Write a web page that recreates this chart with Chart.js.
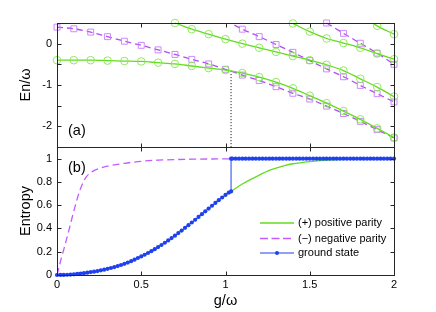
<!DOCTYPE html>
<html><head><meta charset="utf-8">
<script src="https://cdn.jsdelivr.net/npm/chart.js@4.4.1/dist/chart.umd.min.js"></script>
<style>
html,body{margin:0;padding:0;background:#fff;}
#wrap{position:relative;width:436px;height:312px;background:#fff;}
canvas{position:absolute;left:0;top:0;}
</style></head><body>
<div id="wrap"><canvas id="cTop" width="436" height="312"></canvas><canvas id="cBot" width="436" height="312"></canvas></div>
<script>
// ---------- data ----------
// panel (a): energy levels En/ω vs g/ω
const gE     = [0,0.1,0.2,0.3,0.4,0.5,0.6,0.7,0.8,0.9,1.0,1.1,1.2,1.3,1.4,1.5,1.6,1.7,1.8,1.9,2.0];
const evenE0 = [-0.40,-0.40,-0.40,-0.41,-0.42,-0.43,-0.46,-0.49,-0.54,-0.59,-0.64,-0.71,-0.81,-0.93,-1.08,-1.26,-1.44,-1.63,-1.83,-2.05,-2.27];
const oddE0  = [0.40,0.36,0.28,0.17,0.06,-0.04,-0.15,-0.26,-0.38,-0.49,-0.62,-0.76,-0.89,-1.04,-1.20,-1.34,-1.51,-1.69,-1.88,-2.08,-2.28];
const gEven1 = [0.7,0.8,0.9,1.0,1.1,1.2,1.3,1.4,1.5,1.6,1.7,1.8,1.9,2.0];
const evenE1 = [0.50,0.35,0.23,0.11,0.00,-0.10,-0.20,-0.30,-0.40,-0.51,-0.65,-0.85,-1.05,-1.28];
const gOdd1  = [1.0,1.1,1.2,1.3,1.4,1.5,1.6,1.7,1.8,1.9,2.0];
const oddE1  = [0.56,0.35,0.17,-0.02,-0.21,-0.41,-0.61,-0.80,-1.01,-1.21,-1.41];
const gEven2 = [1.4,1.5,1.6,1.7,1.8,1.9,2.0];
const evenE2 = [0.49,0.29,0.125,0.015,-0.10,-0.24,-0.375];
const gOdd2  = [1.6,1.7,1.8,1.9,2.0];
const oddE2  = [0.50,0.25,0.01,-0.23,-0.50];
const gEven3 = [1.8,1.9,2.0];
const evenE3 = [0.70,0.43,0.23];
const crossG = 1.033, crossE = -0.665;

// panel (b): entropy
const gNeg = [0,0.025,0.05,0.075,0.1,0.125,0.15,0.175,0.2,0.25,0.3,0.4,0.5,0.6,0.8,1.0,1.2,1.5,2.0];
const sNeg = [0,0.14,0.27,0.41,0.55,0.68,0.78,0.845,0.88,0.915,0.935,0.96,0.977,0.987,0.995,0.998,1.0,1.0,1.0];
const gPos = [0,0.1,0.2,0.3,0.4,0.5,0.6,0.7,0.8,0.9,1.0,1.033,1.05,1.1,1.15,1.2,1.25,1.3,1.35,1.4,1.5,1.6,1.7,1.8,1.9,2.0];
const sPos = [0,0.006,0.025,0.053,0.096,0.16,0.24,0.338,0.451,0.571,0.688,0.718,0.735,0.782,0.822,0.858,0.893,0.918,0.94,0.956,0.975,0.987,0.994,0.998,0.999,1.0];
const gGS = [0,0.02,0.04,0.06,0.08,0.1,0.12,0.14,0.16,0.18,
  0.2,0.22,0.24,0.26,0.28,0.3,0.32,0.34,0.36,0.38,
  0.4,0.42,0.44,0.46,0.48,0.5,0.52,0.54,0.56,0.58,
  0.6,0.62,0.64,0.66,0.68,0.7,0.72,0.74,0.76,0.78,
  0.8,0.82,0.84,0.86,0.88,0.9,0.92,0.94,0.96,0.98,
  1.0,1.02,1.033,1.033,1.04,1.06,1.08,
  1.1,1.12,1.14,1.16,1.18,1.2,1.22,1.24,1.26,1.28,
  1.3,1.32,1.34,1.36,1.38,1.4,1.42,1.44,1.46,1.48,
  1.5,1.52,1.54,1.56,1.58,1.6,1.62,1.64,1.66,1.68,
  1.7,1.72,1.74,1.76,1.78,1.8,1.82,1.84,1.86,1.88,
  1.9,1.92,1.94,1.96,1.98,2.0];
const sGS = [0,0.0003,0.001,0.002,0.004,0.006,0.009,0.012,0.016,0.02,
  0.025,0.029,0.034,0.04,0.046,0.053,0.06,0.068,0.077,0.086,
  0.096,0.107,0.119,0.132,0.146,0.16,0.174,0.189,0.205,0.222,
  0.24,0.258,0.277,0.297,0.317,0.338,0.36,0.382,0.405,0.428,
  0.451,0.475,0.499,0.523,0.547,0.571,0.595,0.619,0.643,0.666,
  0.688,0.708,0.718,1,1,1,1,
  1,1,1,1,1,1,1,1,1,1,
  1,1,1,1,1,1,1,1,1,1,
  1,1,1,1,1,1,1,1,1,1,
  1,1,1,1,1,1,1,1,1,1,
  1,1,1,1,1,1];

// axes / ticks / labels
const xTickVals = [0,0.5,1,1.5,2];
const topYTickVals = [-2.5,-2,-1.5,-1,-0.5,0,0.5];
const topYLabelVals = [-2,-1,0];
const botYTickVals = [0,0.2,0.4,0.6,0.8,1];
const legendLabels = ['(+) positive parity','(\u2212) negative parity','ground state'];

// ---------- styles ----------
const FONT = '"Liberation Sans", Arial, Helvetica, sans-serif';
const GREEN = '#62dc1e', GREEN_MK = '#84e84e';
const PURPLE = '#b04ef0', PURPLE_MK = '#c77cff', PURPLE_B = '#c25cff';
const BLUE = '#1f40f0';
const AXIS = '#262626';
Chart.defaults.font.family = FONT;
Chart.defaults.font.size = 11;
Chart.defaults.color = '#000';

const pts = (xs, ys) => xs.map((x, i) => ({x, y: ys[i]}));
const fmt = v => String(+(+v).toFixed(2));
const setTicks = vals => s => { s.ticks = vals.map(v => ({value: v})); };

const framePlugin = {
  id: 'frame',
  afterDraw(chart, args, o) {
    const {ctx, chartArea: a} = chart;
    const xs = chart.scales.x, ys = chart.scales.y;
    const P = v => Math.round(v) + 0.5;
    const L = P(a.left), R = P(a.right), T = P(a.top), B = P(a.bottom);
    ctx.save();
    ctx.strokeStyle = AXIS; ctx.lineWidth = 1; ctx.setLineDash([]);
    ctx.strokeRect(L, T, R - L, B - T);
    const tl = 4;
    ctx.beginPath();
    o.xTicks.forEach(v => { const p = P(xs.getPixelForValue(v)); ctx.moveTo(p, B); ctx.lineTo(p, B - tl); ctx.moveTo(p, T); ctx.lineTo(p, T + tl); });
    o.yTicks.forEach(v => { const p = P(ys.getPixelForValue(v)); ctx.moveTo(L, p); ctx.lineTo(L + tl, p); ctx.moveTo(R, p); ctx.lineTo(R - tl, p); });
    ctx.stroke();
    // panel label
    ctx.fillStyle = '#000';
    ctx.font = '14.5px ' + FONT;
    ctx.textBaseline = 'middle'; ctx.textAlign = 'left';
    ctx.fillText(o.label, a.left + 11, o.labelTop ? a.top + 21 : a.bottom - 16);
    if (o.legend) {
      const x0 = a.left + 203, x1 = a.left + 237, tx = a.left + 241;
      const rows = [a.top + 76, a.top + 91.5, a.top + 106];
      ctx.font = '11px ' + FONT;
      ctx.lineWidth = 1.3;
      ctx.strokeStyle = GREEN; ctx.beginPath(); ctx.moveTo(x0, rows[0]); ctx.lineTo(x1, rows[0]); ctx.stroke();
      ctx.strokeStyle = PURPLE_B; ctx.setLineDash([8, 3.5]); ctx.beginPath(); ctx.moveTo(x0, rows[1]); ctx.lineTo(x1, rows[1]); ctx.stroke();
      ctx.setLineDash([]); ctx.lineWidth = 1;
      ctx.strokeStyle = BLUE; ctx.beginPath(); ctx.moveTo(x0, rows[2]); ctx.lineTo(x1, rows[2]); ctx.stroke();
      ctx.fillStyle = BLUE; ctx.beginPath(); ctx.arc((x0 + x1) / 2, rows[2], 2, 0, Math.PI * 2); ctx.fill();
      ctx.fillStyle = '#000';
      legendLabels.forEach((t, i) => ctx.fillText(t, tx, rows[i]));
    }
    ctx.restore();
  }
};

const yMaxTop = 0.5;
const mkRadius = r => c => (c.raw && c.raw.y > yMaxTop + 1e-9) ? 0 : r;
const topClip = {left: 8, right: 8, top: 0, bottom: 8};

function greenSet(xs, ys, clip) {
  return {data: pts(xs, ys), borderColor: GREEN, borderWidth: 1.3, cubicInterpolationMode: 'monotone',
    pointStyle: 'circle', pointRadius: mkRadius(3.8), pointBorderColor: GREEN_MK, pointBorderWidth: 0.9,
    pointBackgroundColor: 'rgba(0,0,0,0)', clip};
}
function purpleSet(xs, ys, clip) {
  return {data: pts(xs, ys), borderColor: PURPLE, borderWidth: 1.3, borderDash: [6, 4], cubicInterpolationMode: 'monotone',
    pointStyle: 'rect', pointRadius: mkRadius(4.2), pointBorderColor: PURPLE_MK, pointBorderWidth: 0.9,
    pointBackgroundColor: 'rgba(0,0,0,0)', clip};
}

new Chart(document.getElementById('cTop'), {
  type: 'line',
  data: {datasets: [
    greenSet(gE, evenE0, false),
    purpleSet(gE, oddE0, false),
    greenSet(gEven1, evenE1, false),
    purpleSet(gOdd1, oddE1, topClip),
    greenSet(gEven2, evenE2, false),
    purpleSet(gOdd2, oddE2, false),
    greenSet(gEven3, evenE3, topClip),
    {data: [{x: crossG, y: crossE}, {x: crossG, y: -2.5}], borderColor: '#000', borderWidth: 1, borderDash: [1, 2], pointRadius: 0}
  ]},
  options: {
    responsive: false, animation: false, devicePixelRatio: 1,
    layout: {padding: {left: 0, right: 42, top: 23, bottom: 165}},
    plugins: {legend: {display: false}, tooltip: {enabled: false},
      frame: {xTicks: xTickVals, yTicks: topYTickVals, label: '(a)', labelTop: false, legend: false}},
    scales: {
      x: {type: 'linear', min: 0, max: 2, grid: {display: false}, border: {display: false},
        ticks: {display: false}, afterBuildTicks: setTicks(xTickVals), afterFit: s => { s.height = 0; }},
      y: {type: 'linear', min: -2.5, max: 0.5, grid: {display: false, drawTicks: false}, border: {display: false},
        afterBuildTicks: setTicks(topYLabelVals),
        ticks: {padding: 5, autoSkip: false, callback: v => fmt(v)},
        title: {display: true, text: 'En/\u03c9', font: {size: 14.5}, padding: {top: 17.5, bottom: 0}},
        afterFit: s => { s.width = 57; }}
    }
  },
  plugins: [framePlugin]
});

new Chart(document.getElementById('cBot'), {
  type: 'line',
  data: {datasets: [
    {data: pts(gGS, sGS), borderColor: BLUE, borderWidth: 1, tension: 0, pointRadius: 2.1,
      pointBackgroundColor: BLUE, pointBorderWidth: 0, clip: false},
    {data: pts(gNeg, sNeg), borderColor: PURPLE_B, borderWidth: 1.3, borderDash: [7, 4], cubicInterpolationMode: 'monotone', pointRadius: 0},
    {data: pts(gPos, sPos), borderColor: GREEN, borderWidth: 1.3, cubicInterpolationMode: 'monotone', pointRadius: 0}
  ]},
  options: {
    responsive: false, animation: false, devicePixelRatio: 1,
    layout: {padding: {left: 0, right: 42, top: 147, bottom: 0}},
    plugins: {legend: {display: false}, tooltip: {enabled: false},
      frame: {xTicks: xTickVals, yTicks: botYTickVals, label: '(b)', labelTop: true, legend: true}},
    scales: {
      x: {type: 'linear', min: 0, max: 2, grid: {display: false, drawTicks: false}, border: {display: false},
        afterBuildTicks: setTicks(xTickVals),
        ticks: {padding: 3, autoSkip: false, maxRotation: 0, callback: v => fmt(v)},
        title: {display: true, text: 'g/\u03c9', font: {size: 14.5}, padding: {top: 0, bottom: 2.5}},
        afterFit: s => { s.height = 37; }},
      y: {type: 'linear', min: 0, max: 1.1, grid: {display: false, drawTicks: false}, border: {display: false},
        afterBuildTicks: setTicks(botYTickVals),
        ticks: {padding: 5, autoSkip: false, callback: v => fmt(v)},
        title: {display: true, text: 'Entropy', font: {size: 14.5}, padding: {top: 17.5, bottom: 0}},
        afterFit: s => { s.width = 57; }}
    }
  },
  plugins: [framePlugin]
});
</script>
</body></html>
